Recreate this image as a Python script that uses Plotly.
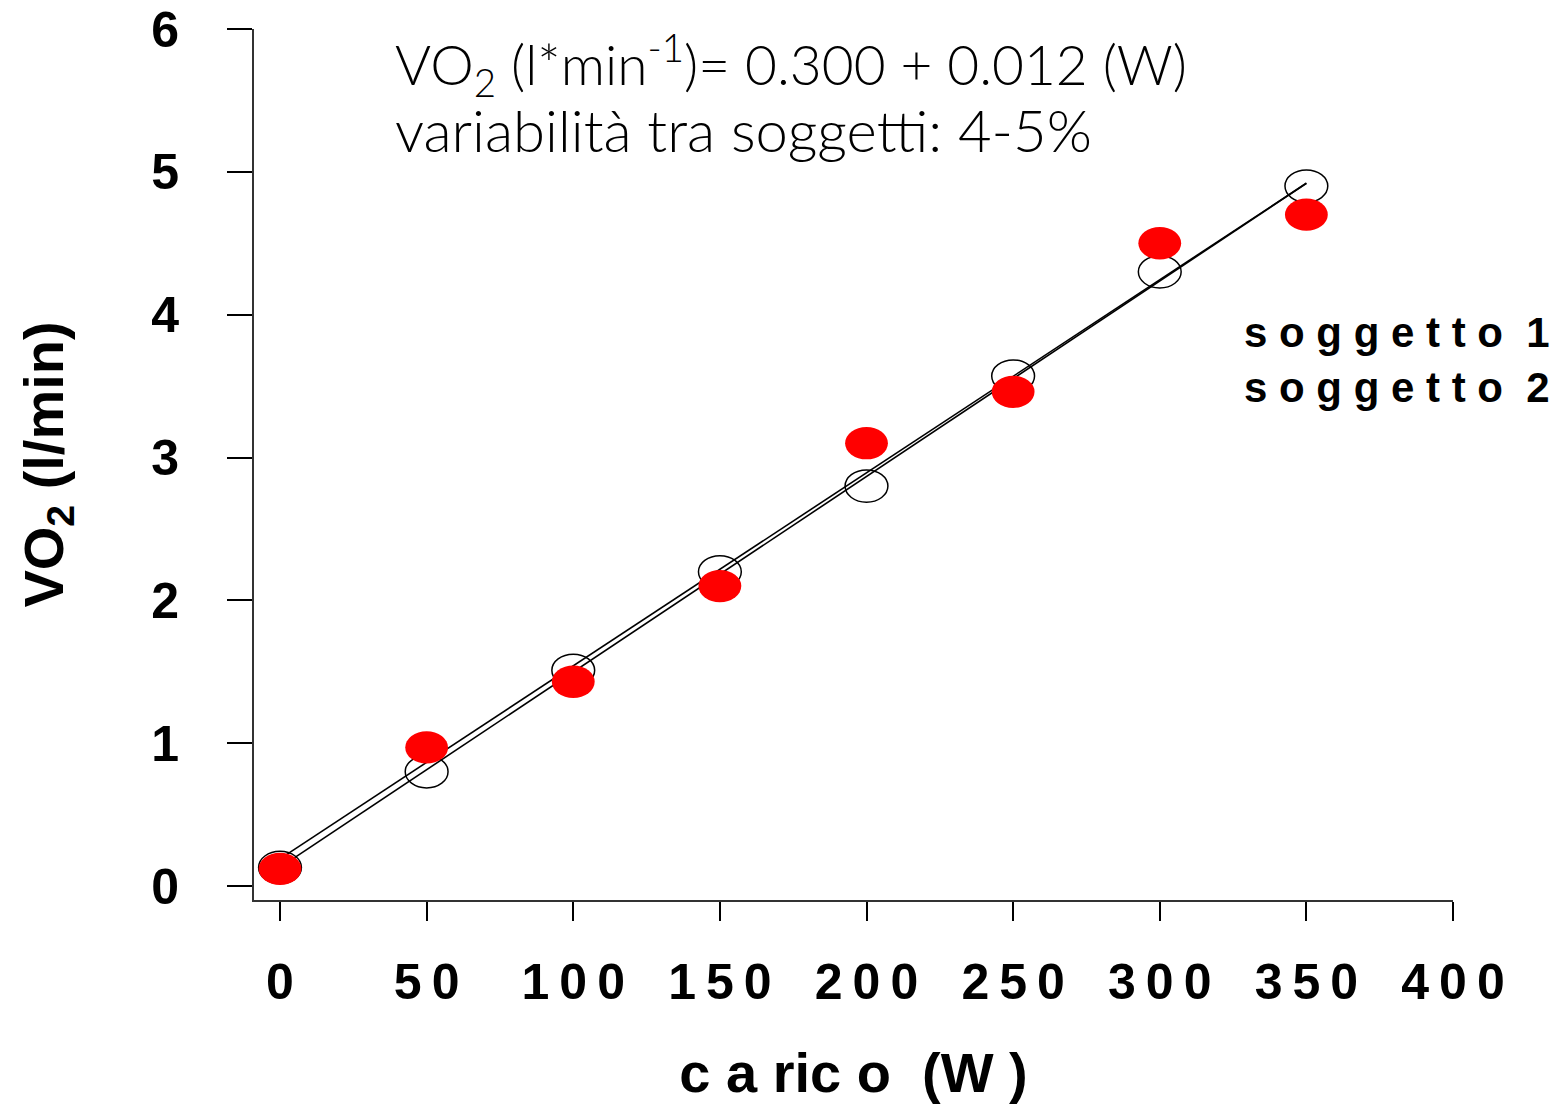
import plotly.graph_objects as go

# ---- data ----
carico = [0, 50, 100, 150, 200, 250, 300, 350]
soggetto1 = [0.13, 0.80, 1.51, 2.20, 2.80, 3.57, 4.30, 4.90]   # open circles
soggetto2 = [0.12, 0.97, 1.43, 2.10, 3.10, 3.46, 4.50, 4.70]   # red filled

fit_x = [0, 350]
fit1_y = [0.19, 4.92]
fit2_y = [0.13, 4.92]

x_tickvals = [0, 50, 100, 150, 200, 250, 300, 350, 400]
T = "\u2009"
x_ticktext = ["0", "5" + T + "0", "1" + T + "0" + T + "0", "1" + T + "5" + T + "0",
              "2" + T + "0" + T + "0", "2" + T + "5" + T + "0", "3" + T + "0" + T + "0",
              "3" + T + "5" + T + "0", "4" + T + "0" + T + "0"]
y_tickvals = [0, 1, 2, 3, 4, 5, 6]
y_ticktext = ["0", "1", "2", "3", "4", "5", "6"]

series_labels = ["s o g g e t t o  1", "s o g g e t t o  2"]
note_lines = ["VO<sub>2</sub> (l*min<sup>-1</sup>)= 0.300 + 0.012 (W)",
              "variabilità tra soggetti: 4-5%"]

fig = go.Figure()

for fy in (fit1_y, fit2_y):
    fig.add_trace(go.Scatter(x=fit_x, y=fy, mode="lines",
                             line=dict(color="black", width=1.6),
                             showlegend=False, hoverinfo="skip"))

# ellipse markers drawn in data coordinates
rx, ry = 7.3, 0.113
shapes = []
for xv, yv in zip(carico, soggetto1):
    shapes.append(dict(type="circle", xref="x", yref="y",
                       x0=xv - rx, x1=xv + rx, y0=yv - ry, y1=yv + ry,
                       line=dict(color="black", width=1.5),
                       fillcolor="rgba(0,0,0,0)", layer="above"))
for xv, yv in zip(carico, soggetto2):
    shapes.append(dict(type="circle", xref="x", yref="y",
                       x0=xv - rx, x1=xv + rx, y0=yv - ry, y1=yv + ry,
                       line=dict(width=0), fillcolor="#FF0000", layer="above"))

fig.update_layout(
    width=1564, height=1104,
    margin=dict(l=254, r=111, t=29, b=204, autoexpand=False),
    paper_bgcolor="white", plot_bgcolor="white",
    showlegend=False,
    shapes=shapes,
    font=dict(family="Liberation Sans", color="black"),
    xaxis=dict(range=[-8.87, 400], tickvals=x_tickvals, ticktext=x_ticktext,
               automargin=False,
               showgrid=False, zeroline=False,
               showline=True, linecolor="#333333", linewidth=2,
               ticks="outside", ticklen=19, tickwidth=1.5, tickcolor="black",
               tickfont=dict(family="Liberation Sans", size=50, weight="bold"),
               ticklabelstandoff=18,
               title=dict(text="c a ric o  (W )", standoff=44,
                          font=dict(family="Liberation Sans", size=56, weight="bold"))),
    yaxis=dict(range=[-0.098, 6], tickvals=y_tickvals, ticktext=y_ticktext,
               automargin=False,
               showgrid=False, zeroline=False,
               showline=True, linecolor="#333333", linewidth=2,
               ticks="outside", ticklen=25, tickwidth=1.5, tickcolor="black",
               tickfont=dict(family="Liberation Sans", size=50, weight="bold"),
               ticklabelstandoff=38,
               title=dict(text="VO<sub>2</sub> (l/min)", standoff=70,
                          font=dict(family="Liberation Sans", size=56, weight="bold"))),
)

note_y = [64, 129]
note_size = [55, 58]
for txt, yp, fs in zip(note_lines, note_y, note_size):
    fig.add_annotation(xref="paper", yref="paper", x=(393 - 254) / 1199,
                       y=(900 - yp) / 871,
                       xanchor="left", yanchor="middle", align="left", showarrow=False,
                       text=txt,
                       font=dict(family="Lato", size=fs, weight=300, color="black"))

label_y = [332, 387]
for lab, yp in zip(series_labels, label_y):
    fig.add_annotation(xref="paper", yref="paper", x=1.0, y=(900 - yp) / 871,
                       xanchor="right", yanchor="middle", xshift=99, showarrow=False,
                       text=lab,
                       font=dict(family="Liberation Sans", size=42, weight="bold", color="black"))

fig.write_html("out.html")
